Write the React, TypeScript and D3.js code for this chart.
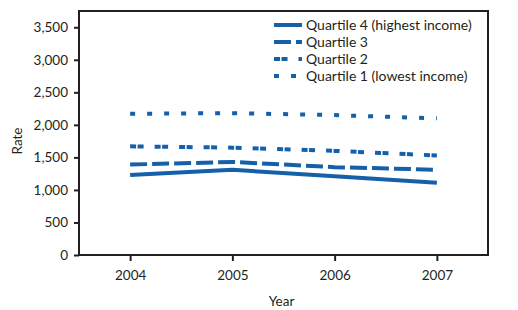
import React, { useRef, useEffect } from "react";
import * as d3 from "d3";

const WIDTH = 518;
const HEIGHT = 310;
const MARGIN = { top: 11, right: 30, bottom: 55, left: 79 };
const LINE_COLOR = "#1560ab";
const INK = "#231f20";
const FONT = "Lato, 'Open Sans', sans-serif";

const years = ["2004", "2005", "2006", "2007"];
const yTicks = [0, 500, 1000, 1500, 2000, 2500, 3000, 3500];

const quartile4 = [1230, 1310, 1210, 1110];
const quartile3 = [1390, 1430, 1350, 1310];
const quartile2 = [1670, 1650, 1600, 1530];
const quartile1 = [2170, 2180, 2150, 2100];

const seriesNames = [
  "Quartile 4 (highest income)",
  "Quartile 3",
  "Quartile 2",
  "Quartile 1 (lowest income)",
];
const dashes = ["none", "17,5", "6,1.5,6,11", "5,12"];

export default function App() {
  const svgRef = useRef<SVGSVGElement>(null);

  useEffect(() => {
    const svg = d3.select(svgRef.current);
    svg.selectAll("*").remove();

    const innerWidth = WIDTH - MARGIN.left - MARGIN.right;
    const innerHeight = HEIGHT - MARGIN.top - MARGIN.bottom;

    const g = svg
      .append("g")
      .attr("transform", `translate(${MARGIN.left},${MARGIN.top})`);

    const xScale = d3
      .scalePoint<string>()
      .domain(years)
      .range([0, innerWidth])
      .padding(0.5);

    const yScale = d3.scaleLinear().domain([0, 3750]).range([innerHeight, 0]);

    const allSeries = [quartile4, quartile3, quartile2, quartile1];

    const line = d3
      .line<number>()
      .x((_, i) => xScale(years[i]) as number)
      .y((d) => yScale(d));

    // Lines
    allSeries.forEach((vals, i) => {
      g.append("path")
        .datum(vals)
        .attr("fill", "none")
        .attr("stroke", LINE_COLOR)
        .attr("stroke-width", 4)
        .attr("stroke-dasharray", dashes[i])
        .attr("d", line);
    });

    // Frame
    g.append("rect")
      .attr("width", innerWidth)
      .attr("height", innerHeight)
      .attr("fill", "none")
      .attr("stroke", INK)
      .attr("stroke-width", 2);

    // Y axis
    const yAxisG = g.append("g").call(
      d3
        .axisLeft(yScale)
        .tickValues(yTicks)
        .tickSize(5)
        .tickPadding(6)
        .tickFormat((v) => d3.format(",")(v as number)),
    );
    yAxisG.select(".domain").remove();
    yAxisG.selectAll("line").attr("stroke", INK).attr("stroke-width", 2);
    yAxisG
      .selectAll("text")
      .attr("font-size", 13.5)
      .attr("font-family", FONT)
      .attr("fill", INK);

    // X axis
    const xAxisG = g
      .append("g")
      .attr("transform", `translate(0,${innerHeight})`)
      .call(d3.axisBottom(xScale).tickSize(6).tickPadding(9));
    xAxisG.select(".domain").remove();
    xAxisG.selectAll("line").attr("stroke", INK).attr("stroke-width", 2);
    xAxisG
      .selectAll("text")
      .attr("font-size", 13.5)
      .attr("font-family", FONT)
      .attr("fill", INK);

    // Axis titles
    g.append("text")
      .attr("x", innerWidth / 2 - 2)
      .attr("y", innerHeight + 51)
      .attr("text-anchor", "middle")
      .attr("font-size", 13.5)
      .attr("font-family", FONT)
      .attr("fill", INK)
      .text("Year");

    g.append("text")
      .attr("transform", "rotate(-90)")
      .attr("x", -130)
      .attr("y", -57)
      .attr("text-anchor", "middle")
      .attr("font-size", 13.5)
      .attr("font-family", FONT)
      .attr("fill", INK)
      .text("Rate");

    // Legend
    const legend = g.append("g").attr("transform", "translate(195,14)");
    seriesNames.forEach((name, i) => {
      const row = legend.append("g").attr("transform", `translate(0,${i * 17})`);
      row
        .append("line")
        .attr("x1", 0)
        .attr("x2", 28)
        .attr("stroke", LINE_COLOR)
        .attr("stroke-width", 4)
        .attr("stroke-dasharray", dashes[i]);
      row
        .append("text")
        .attr("x", 32)
        .attr("dy", "0.35em")
        .attr("font-size", 14)
        .attr("font-family", FONT)
        .attr("fill", INK)
        .text(name);
    });
  }, []);

  return (
    <svg
      ref={svgRef}
      width={WIDTH}
      height={HEIGHT}
      style={{ position: "absolute", left: 0, top: 0, background: "#fff" }}
    />
  );
}
